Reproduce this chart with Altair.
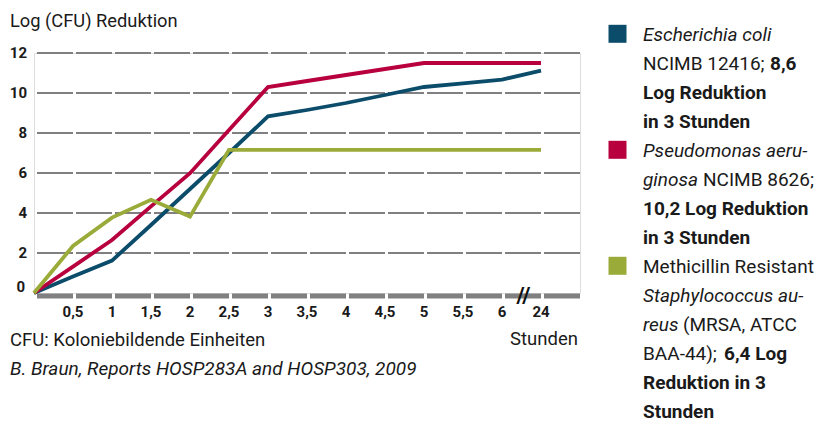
import altair as alt
import pandas as pd

# ---------------- data ----------------
x_labels = ["0", "0,5", "1", "1,5", "2", "2,5", "3", "3,5", "4", "4,5", "5", "5,5", "6", "24"]
ecoli = [0, 0.82, 1.62, 3.4, 5.2, 7.0, 8.83, 9.15, 9.5, 9.9, 10.3, 10.48, 10.67, 11.12]
pseudo = [0, 1.32, 2.65, 4.33, 5.99, 8.15, 10.3, 10.6, 10.9, 11.2, 11.5, 11.5, 11.5, 11.5]
mrsa = [0, 2.35, 3.77, 4.66, 3.82, 7.16, 7.16, 7.16, 7.16, 7.16, 7.16, 7.16, 7.16, 7.16]
series_names = ["Escherichia coli", "Pseudomonas aeruginosa", "MRSA"]
colors = ["#0b4c6b", "#b8003f", "#9aab39"]
y_ticks = [0, 2, 4, 6, 8, 10, 12]
grid_values = [2, 4, 6, 8, 10, 12]

title_text = "Log (CFU) Reduktion"
unit_text = "Stunden"
note_text = "CFU: Koloniebildende Einheiten"
source_text = "B. Braun, Reports HOSP283A and HOSP303, 2009"

# legend: list of lines, each a list of (text, style, x offset)
legend_lines = [
    [("Escherichia coli", "italic", 0)],
    [("NCIMB 12416;", "normal", 0), ("8,6", "bold", 127)],
    [("Log Reduktion", "bold", 0)],
    [("in 3 Stunden", "bold", 0)],
    [("Pseudomonas aeru-", "italic", 0)],
    [("ginosa", "italic", 0), ("NCIMB 8626;", "normal", 60)],
    [("10,2 Log Reduktion", "bold", 0)],
    [("in 3 Stunden", "bold", 0)],
    [("Methicillin Resistant", "normal", 0)],
    [("Staphylococcus au-", "italic", 0)],
    [("reus", "italic", 0), ("(MRSA, ATCC", "normal", 40)],
    [("BAA-44);", "normal", 0), ("6,4 Log", "bold", 81)],
    [("Reduktion in 3", "bold", 0)],
    [("Stunden", "bold", 0)],
]
legend_entry_first_line = [0, 4, 8]

# ---------------- layout ----------------
FONT = "Roboto"
GRAY = "#808082"
TXT = "#1a1a1a"
UNIT = 39          # px per half hour step
W = 14 * UNIT      # plot width
H = 240
PAD_L, PAD_T = 26, 45
PAD_R = 816 - PAD_L - W
PAD_B = 416 - PAD_T - H

idx = list(range(len(x_labels)))
rows = []
for name, vals in zip(series_names, [ecoli, pseudo, mrsa]):
    for i, v in zip(idx, vals):
        rows.append({"x": i, "value": v, "series": name})
df = pd.DataFrame(rows)

xscale = alt.Scale(domain=[0, 14], nice=False, zero=False)
yscale = alt.Scale(domain=[0, 12], nice=False)

grid = alt.Chart(pd.DataFrame({"g": grid_values})).mark_rule(
    color=GRAY, strokeWidth=2, strokeDash=[36, 3]
).encode(y=alt.Y("g:Q", scale=yscale, axis=None))

base = alt.Chart(pd.DataFrame({"g": [0]})).mark_rule(
    color=GRAY, strokeWidth=5, strokeDash=[36, 3], yOffset=3
).encode(y=alt.Y("g:Q", scale=yscale, axis=None))

lines = alt.Chart(df).mark_line(strokeWidth=3.8, strokeJoin="miter").encode(
    x=alt.X("x:Q", scale=xscale, axis=None),
    y=alt.Y("value:Q", scale=yscale, axis=None),
    color=alt.Color("series:N", scale=alt.Scale(domain=series_names, range=colors), legend=None),
    order=alt.Order("x:Q"),
)

# x tick labels (skip the 0 position)
xlab_df = pd.DataFrame({"x": idx[1:], "label": x_labels[1:]})
xlabels = alt.Chart(xlab_df).mark_text(
    font=FONT, fontSize=15, fontWeight="bold", color=TXT, align="center", baseline="alphabetic"
).encode(x=alt.X("x:Q", scale=xscale, axis=None), y=alt.value(H + 24), text="label:N")

ylab_df = pd.DataFrame({"v": y_ticks})
ylab_common = dict(font=FONT, fontSize=15, fontWeight="bold", color=TXT,
                   align="right", baseline="middle")
ylabels = alt.Chart(ylab_df).transform_filter("datum.v > 0").mark_text(**ylab_common).encode(
    x=alt.value(-7), y=alt.Y("v:Q", scale=yscale, axis=None), text=alt.Text("v:Q"))
ylabel0 = alt.Chart(ylab_df).transform_filter("datum.v == 0").mark_text(dy=-6, **ylab_common).encode(
    x=alt.value(-9), y=alt.Y("v:Q", scale=yscale, axis=None), text=alt.Text("v:Q"))

brk = alt.Chart(pd.DataFrame({"x": [12.55], "y": [0]})).mark_text(
    text="//", font=FONT, fontSize=22, fontWeight="bold", color="#111111",
    baseline="middle", align="center", yOffset=3
).encode(x=alt.X("x:Q", scale=xscale, axis=None), y=alt.Y("y:Q", scale=yscale, axis=None))

layers = [grid, base, lines, xlabels, ylabels, ylabel0, brk]


def txt(text, px, py, size=19, style="normal", align="left"):
    """px, py are page coordinates; converted to plot coordinates."""
    kw = dict(text=text, font=FONT, fontSize=size, align=align, baseline="alphabetic",
              color=TXT)
    if style == "italic":
        kw["fontStyle"] = "italic"
    if style == "bold":
        kw["fontWeight"] = "bold"
    return alt.Chart(pd.DataFrame({"a": [0]})).mark_text(**kw).encode(
        x=alt.value(px - 8 - PAD_L), y=alt.value(py - 8 - PAD_T))


layers.append(txt(title_text, 10, 26.5, size=18.3))
layers.append(txt(note_text, 10, 346, size=18.5))
layers.append(txt(source_text, 10, 375, size=19, style="italic"))
layers.append(txt(unit_text, 578, 345, size=18.5, align="right"))

LEG_X = 643
LEG_Y0 = 40.5
LEG_DY = 29.0
for li, segs in enumerate(legend_lines):
    for text, style, off in segs:
        layers.append(txt(text, LEG_X + off, LEG_Y0 + li * LEG_DY, style=style))

for name, col, line in zip(series_names, colors, legend_entry_first_line):
    cy = LEG_Y0 + line * LEG_DY - 6.7
    layers.append(
        alt.Chart(pd.DataFrame({"a": [0]})).mark_square(size=324, color=col, opacity=1)
        .encode(x=alt.value(617.5 - 8 - PAD_L), y=alt.value(cy - 8 - PAD_T))
    )

chart = alt.layer(*layers).properties(
    width=W, height=H,
    padding={"left": PAD_L, "top": PAD_T, "right": PAD_R, "bottom": PAD_B},
    autosize=alt.AutoSizeParams(type="none"),
).configure_view(stroke=None).configure(background="white")

chart.save("out.html", embed_options={"renderer": "svg", "actions": False})
